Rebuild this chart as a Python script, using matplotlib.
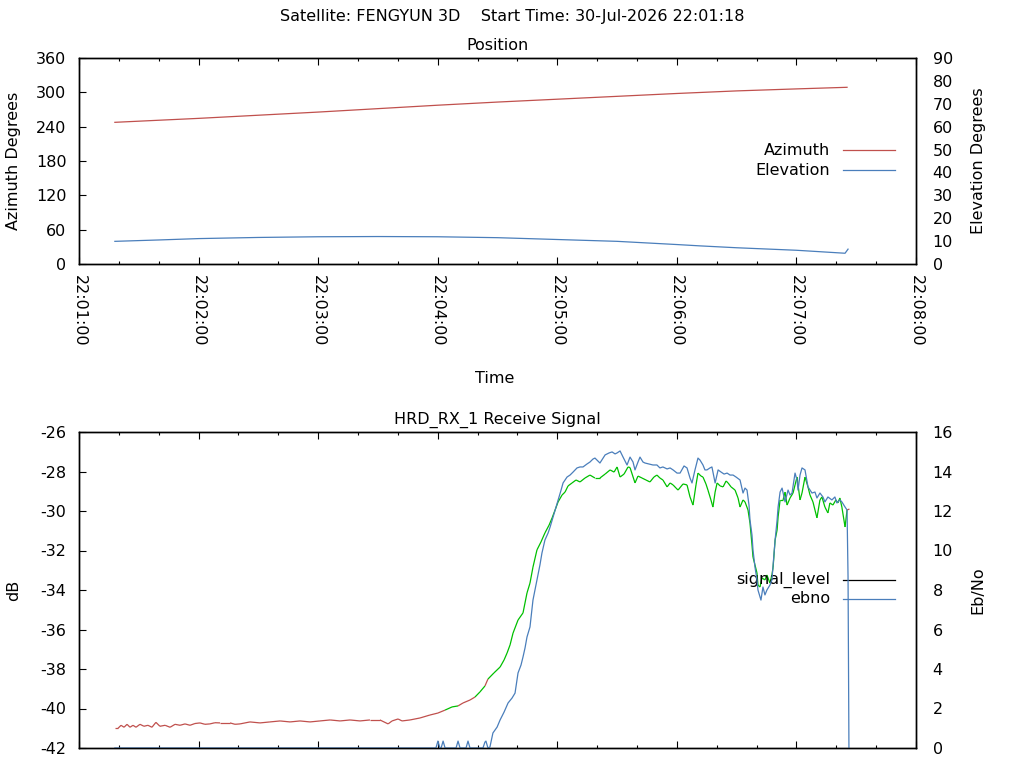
import matplotlib
matplotlib.use("Agg")
import matplotlib.pyplot as plt
from matplotlib.collections import LineCollection
from matplotlib.ticker import MultipleLocator, FuncFormatter
import numpy as np

# ---------------- data ----------------
title_text = "Satellite: FENGYUN 3D    Start Time: 30-Jul-2026 22:01:18"
base_hour, base_min = 22, 1     # x axis origin 22:01:00, x in seconds

az_t = [18, 60, 90, 120, 150, 180, 210, 240, 270, 300, 330, 360, 385.4]
az_deg = [247.6, 254.5, 260, 265.5, 271.5, 277.5, 283, 288, 293, 298, 302.5, 306, 308.8]

el_t = [18, 40, 60, 90, 120, 150, 180, 210, 240, 270, 300, 312, 330, 360, 384.4, 385.9]
el_deg = [9.9, 10.5, 11.1, 11.6, 11.9, 12.0, 11.9, 11.5, 10.7, 9.9, 8.5, 7.9, 7.1, 6.0, 4.7, 6.5]

sig_t = [18.1, 19.6, 21.1, 22.6, 24.1, 25.6, 27.1, 28.6, 30.6, 32.6, 34.6, 36.6, 38.6, 40.6,
         43.2, 45.7, 48.2, 50.7, 53.2, 55.7, 58.2, 60.7, 63.2, 65.7, 68.2, 70.8, 75.8, 78.3,
         80.8, 85.8, 90.8, 95.8, 100.9, 105.9, 110.9, 115.9, 120.9, 126.0, 131.0, 136.0,
         141.0, 146.0, 151.0, 155.1, 157.1, 160.1, 162.1, 166.1, 171.1, 176.1,
         180.1, 183.7, 187.2, 190.2, 192.7, 196.2, 198.7, 201.2, 203.7, 205.2, 208.2, 211.3,
         213.3, 214.8, 216.3, 217.8, 220.3, 222.8, 224.8, 226.3, 227.8, 229.8, 231.8, 233.8,
         235.9, 237.4, 238.9, 240.4, 242.4, 243.9, 245.4, 247.4, 249.4, 251.4, 253.9, 256.4,
         258.9, 261.4, 264.0, 266.5, 268.5, 270.0, 271.5, 273.5, 275.5, 276.5, 279.0, 280.5,
         282.5, 284.5, 286.5, 288.5, 290.0, 291.5, 293.0, 295.1, 296.6, 298.1, 299.6, 300.6,
         303.1, 305.1, 306.6, 308.1, 309.6, 310.6, 312.1, 313.1, 314.6, 315.6, 317.1, 318.1,
         319.2, 320.2, 321.7, 323.2, 324.7, 325.7, 327.2, 329.2, 330.7, 331.7, 333.2, 334.2,
         335.7, 336.7, 337.7, 338.2, 339.2, 340.2, 340.7, 341.7, 342.7, 344.2, 345.2, 346.7,
         347.7, 348.3, 349.3, 350.3, 350.8, 351.8, 353.3, 354.3, 355.3, 356.8, 358.3, 359.3,
         360.3, 361.8, 362.8, 364.3, 365.8, 366.8, 368.3, 369.3, 370.3, 371.8, 372.8, 374.3,
         375.8, 376.8, 378.3, 379.8, 380.8, 381.8, 382.8, 384.4, 385.4, 386.6]
sig_db = [-41.00, -41.00, -40.85, -40.95, -40.80, -40.95, -40.85, -40.95, -40.80, -40.90,
          -40.85, -40.95, -40.70, -40.90, -40.85, -40.95, -40.80, -40.85, -40.78, -40.85,
          -40.76, -40.73, -40.80, -40.78, -40.72, -40.73, -40.73, -40.80, -40.78, -40.68,
          -40.73, -40.68, -40.63, -40.68, -40.63, -40.68, -40.63, -40.58, -40.63, -40.58,
          -40.63, -40.58, -40.58, -40.78, -40.63, -40.53, -40.63, -40.58, -40.48, -40.33,
          -40.23, -40.08, -39.92, -39.87, -39.72, -39.57, -39.42, -39.16, -38.86, -38.51,
          -38.20, -37.90, -37.54, -37.19, -36.78, -36.18, -35.52, -35.16, -34.15, -33.65,
          -32.84, -31.97, -31.57, -31.11, -30.71, -30.35, -29.95, -29.54, -29.19, -29.04,
          -28.73, -28.58, -28.43, -28.53, -28.33, -28.18, -28.33, -28.33, -28.13, -27.92,
          -28.03, -27.77, -28.28, -28.13, -27.77, -27.80, -28.58, -28.23, -28.33, -28.43,
          -28.53, -28.28, -28.18, -28.33, -28.43, -28.78, -28.58, -28.68, -28.84, -28.94,
          -28.63, -28.68, -29.29, -29.70, -28.68, -28.08, -28.23, -28.28, -28.63, -28.94,
          -29.44, -29.80, -29.04, -28.58, -28.73, -28.78, -28.48, -28.58, -28.78, -28.94,
          -29.34, -29.80, -29.44, -29.54, -29.95, -30.61, -31.72, -32.33, -32.73, -33.14,
          -33.75, -33.85, -33.39, -33.49, -33.24, -33.65, -33.24, -32.84, -31.47, -30.96,
          -30.30, -29.44, -29.44, -29.04, -29.70, -29.34, -29.09, -28.68, -28.28, -29.44,
          -29.09, -28.28, -28.78, -29.19, -29.54, -29.95, -30.35, -29.44, -29.29, -29.80,
          -30.10, -29.59, -29.70, -29.44, -29.59, -29.34, -29.80, -30.81, -29.95, -29.90]
# spans (seconds) where the signal trace is drawn red (otherwise green)
sig_red_spans = [(0, 183.0), (190.5, 198.0), (203.9, 205.5), (385.5, 390)]

ebno_t = [18, 179.1, 180.1, 181.1, 181.7, 182.7, 183.7, 189.2, 190.2, 191.2, 194.2, 195.2,
          196.2, 202.7, 203.7, 204.2, 205.2, 206.2, 207.7, 209.8, 211.3, 213.3, 215.3, 217.3,
          218.8, 220.3, 221.8, 222.8, 223.8, 224.8, 226.3, 227.8, 228.8, 229.8, 231.3, 232.3,
          233.8, 235.4, 236.4, 237.9, 239.4, 240.4, 241.9, 242.9, 244.9, 246.4, 247.9, 249.9,
          251.4, 252.9, 254.9, 256.4, 257.9, 258.9, 260.4, 261.4, 263.0, 264.0, 266.0, 267.5,
          269.0, 270.0, 271.5, 273.0, 275.0, 276.5, 278.0, 279.0, 280.5, 281.5, 283.0, 284.0,
          286.0, 288.0, 290.0, 291.5, 293.0, 295.1, 296.6, 298.1, 300.1, 301.6, 303.6, 305.1,
          306.6, 307.6, 309.1, 310.6, 311.6, 313.1, 314.1, 315.1, 316.6, 317.6, 319.2, 320.7,
          322.2, 323.7, 325.2, 326.7, 328.2, 329.7, 331.7, 333.2, 334.2, 335.2, 336.2, 336.7,
          337.7, 338.2, 339.2, 340.2, 340.7, 341.7, 342.2, 343.2, 344.2, 345.2, 346.7, 347.7,
          348.3, 349.3, 350.3, 350.8, 351.8, 352.8, 354.3, 355.8, 356.8, 357.8, 359.3, 360.3,
          360.8, 361.8, 362.8, 364.3, 365.8, 366.8, 367.8, 369.3, 370.3, 371.8, 373.3, 374.3,
          375.8, 377.8, 379.3, 380.3, 381.8, 382.8, 384.4, 385.4, 385.9, 386.4]
ebno_val = [0, 0, 0.35, 0, 0, 0.35, 0, 0, 0.35, 0, 0, 0.35,
            0, 0, 0.30, 0.35, 0, 0.05, 0.76, 1.06, 1.42, 1.82, 2.28, 2.53,
            2.78, 3.80, 4.20, 4.61, 5.06, 5.62, 6.13, 7.49, 8.00, 8.51, 9.27, 9.87,
            10.53, 10.89, 11.19, 11.70, 12.20, 12.56, 13.06, 13.42, 13.72, 13.82, 13.97, 14.18,
            14.23, 14.23, 14.38, 14.48, 14.63, 14.68, 14.53, 14.43, 14.68, 14.84, 14.94, 14.99,
            14.89, 14.94, 15.04, 14.73, 14.33, 14.73, 14.48, 14.08, 14.48, 14.73, 14.48, 14.43,
            14.38, 14.33, 14.33, 14.18, 14.23, 14.13, 14.18, 14.08, 13.92, 13.92, 14.28, 14.18,
            13.67, 13.42, 14.08, 14.68, 14.58, 14.33, 14.08, 14.08, 14.18, 14.23, 13.42, 14.08,
            13.97, 13.87, 13.92, 13.82, 13.82, 13.72, 13.57, 12.91, 13.16, 13.06, 12.30, 11.54,
            10.78, 10.03, 9.16, 8.51, 8.00, 7.65, 7.49, 8.15, 7.75, 8.00, 8.25, 8.51,
            9.27, 10.53, 11.54, 12.20, 12.96, 13.16, 12.46, 13.06, 12.81, 12.91, 13.92, 13.57,
            13.06, 13.82, 14.18, 14.08, 13.22, 13.06, 12.91, 12.96, 12.66, 12.91, 12.71, 12.46,
            12.71, 12.56, 12.71, 12.41, 12.56, 12.46, 12.20, 12.05, 8.66, -1.0]

# ---------------- style ----------------
RED = "#c0504d"
BLUE = "#4a7ebb"
GREEN = "#00c000"
FS = 11.5
plt.rcParams["font.family"] = ["DejaVu Sans"]
plt.rcParams["font.size"] = FS
plt.rcParams["axes.unicode_minus"] = False

W, H = 1024, 768
fig = plt.figure(figsize=(W / 100, H / 100), dpi=100)

def px_rect(l, t, r, b):
    return [l / W, 1 - b / H, (r - l) / W, (b - t) / H]

def fmt_time(v, pos=None):
    total = int(round(v)) + base_hour * 3600 + base_min * 60
    return "%02d:%02d:%02d" % (total // 3600, (total // 60) % 60, total % 60)

def style_x(ax, labels):
    ax.set_xlim(0, 420)
    ax.xaxis.set_major_locator(MultipleLocator(60))
    ax.xaxis.set_minor_locator(MultipleLocator(20))
    ax.xaxis.set_major_formatter(FuncFormatter(fmt_time))
    ax.tick_params(axis="x", which="both", direction="in", top=True, bottom=True,
                   labelbottom=labels, width=0.8)
    ax.tick_params(axis="x", which="major", length=5, pad=8)
    ax.tick_params(axis="x", which="minor", length=2.5)
    if labels:
        for lab in ax.get_xticklabels():
            lab.set_rotation(-90)
            lab.set_ha("center")
            lab.set_va("top")

def style_spines(axes):
    for a in axes:
        for s in a.spines.values():
            s.set_linewidth(1.0)
            s.set_zorder(5)

# ---------------- top: position ----------------
ax1 = fig.add_axes(px_rect(79, 58, 916, 264))
ax1b = ax1.twinx()
ax1.plot(az_t, az_deg, color=RED, lw=0.9)
ax1b.plot(el_t, el_deg, color=BLUE, lw=0.9)
ax1.set_ylim(0, 360)
ax1.set_yticks(np.arange(0, 361, 60))
ax1b.set_ylim(0, 90)
ax1b.set_yticks(np.arange(0, 91, 10))
style_x(ax1, True)
ax1.tick_params(axis="y", direction="in", length=5, width=0.8, pad=9)
ax1b.tick_params(axis="y", direction="in", length=0, pad=12)
style_spines((ax1, ax1b))

# legend (manual, gnuplot style: text then sample line)
for yy, lab, col in [(0.553, "Azimuth", RED), (0.456, "Elevation", BLUE)]:
    ax1.plot([0.913, 0.975], [yy, yy], color=col, lw=0.9, transform=ax1.transAxes, clip_on=False)
    ax1.text(0.897, yy, lab, ha="right", va="center", transform=ax1.transAxes, fontsize=FS)

# ---------------- bottom: receive signal ----------------
ax2 = fig.add_axes(px_rect(79, 432, 916, 748))
ax2b = ax2.twinx()
st = np.array(sig_t)
sv = np.array(sig_db)
segs = np.stack([np.column_stack([st[:-1], sv[:-1]]), np.column_stack([st[1:], sv[1:]])], axis=1)
mids = 0.5 * (st[:-1] + st[1:])
cols = []
for m in mids:
    red = any(a <= m < b for a, b in sig_red_spans)
    cols.append(RED if red else GREEN)
lc = LineCollection(segs, colors=cols, linewidths=0.9)
ax2.add_collection(lc)
ax2b.plot(ebno_t, ebno_val, color=BLUE, lw=0.9)
ax2.set_ylim(-42, -26)
ax2.set_yticks(np.arange(-42, -25, 2))
ax2b.set_ylim(0, 16)
ax2b.set_yticks(np.arange(0, 17, 2))
style_x(ax2, False)
ax2.tick_params(axis="y", direction="in", length=5, width=0.8, pad=9)
ax2b.tick_params(axis="y", direction="in", length=0, pad=12)
style_spines((ax2, ax2b))

for yy, lab, col in [(0.532, "signal_level", "black"), (0.472, "ebno", BLUE)]:
    ax2.plot([0.913, 0.975], [yy, yy], color=col, lw=0.9, transform=ax2.transAxes, clip_on=False)
    ax2.text(0.897, yy, lab, ha="right", va="center", transform=ax2.transAxes, fontsize=FS)

# ---------------- texts ----------------
def ftext(x, y, s, **kw):
    fig.text(x / W, 1 - y / H, s, ha="center", va="center", fontsize=FS, **kw)

ftext(512, 17, title_text)
ftext(497, 46, "Position")
ftext(495, 379, "Time")
ftext(497, 420, "HRD_RX_1 Receive Signal")
ftext(14, 161, "Azimuth Degrees", rotation=90)
ftext(978, 161, "Elevation Degrees", rotation=90)
ftext(14, 590, "dB", rotation=90)
ftext(978, 590, "Eb/No", rotation=90)

fig.savefig("out.png", dpi=100)
